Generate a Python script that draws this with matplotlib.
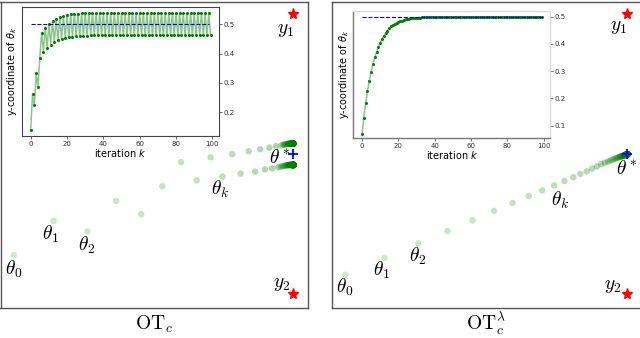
import numpy as np
import matplotlib
matplotlib.use("Agg")
import matplotlib.pyplot as plt

plt.rcParams['mathtext.fontset'] = 'cm'
plt.rcParams['font.family'] = ['DejaVu Sans']

# ---------------- data ----------------
iters = list(range(100))

# OT_c : oscillating iterates
left_y = [0.140, 0.262, 0.224, 0.333, 0.286, 0.386, 0.472, 0.407, 0.489, 0.420,
          0.501, 0.431, 0.511, 0.438, 0.518, 0.446, 0.524, 0.450, 0.529, 0.454,
          0.532, 0.456, 0.534, 0.458, 0.535, 0.459, 0.536, 0.460, 0.537, 0.461,
          0.537, 0.461, 0.538, 0.462, 0.538, 0.462, 0.538, 0.462, 0.538, 0.462,
          0.538, 0.462, 0.538, 0.462, 0.538, 0.462, 0.538, 0.462, 0.538, 0.462,
          0.538, 0.462, 0.538, 0.462, 0.538, 0.462, 0.538, 0.462, 0.538, 0.462,
          0.538, 0.462, 0.538, 0.462, 0.538, 0.462, 0.538, 0.462, 0.538, 0.462,
          0.538, 0.462, 0.538, 0.462, 0.538, 0.462, 0.538, 0.462, 0.538, 0.462,
          0.538, 0.462, 0.538, 0.462, 0.538, 0.462, 0.538, 0.462, 0.538, 0.462,
          0.538, 0.462, 0.538, 0.462, 0.538, 0.462, 0.538, 0.462, 0.538, 0.462]
left_x = [0.000, 0.142, 0.263, 0.366, 0.455, 0.531, 0.598, 0.654, 0.704, 0.746,
          0.781, 0.811, 0.840, 0.863, 0.881, 0.898, 0.914, 0.924, 0.938, 0.946,
          0.958, 0.955, 0.964, 0.962, 0.969, 0.968, 0.974, 0.973, 0.978, 0.977,
          0.981, 0.980, 0.984, 0.983, 0.986, 0.985, 0.988, 0.987, 0.990, 0.989,
          0.991, 0.990, 0.992, 0.991, 0.993, 0.992, 0.994, 0.993, 0.994, 0.994,
          0.995, 0.995, 0.995, 0.995, 0.996, 0.996, 0.996, 0.996, 0.996, 0.997,
          0.997, 0.997, 0.997, 0.997, 0.997, 0.998, 0.997, 0.998, 0.998, 0.998,
          0.998, 0.998, 0.998, 0.998, 0.998, 0.999, 0.998, 0.999, 0.998, 0.999,
          0.999, 0.999, 0.999, 0.999, 0.999, 0.999, 0.999, 0.999, 0.999, 1.000,
          0.999, 1.000, 0.999, 1.000, 0.999, 1.000, 0.999, 1.000, 0.999, 1.000]

# OT_c^lambda : smooth iterates
right_y = [0.070, 0.130, 0.182, 0.226, 0.264, 0.298, 0.326, 0.351, 0.371, 0.389,
           0.405, 0.418, 0.430, 0.439, 0.449, 0.457, 0.465, 0.470, 0.474, 0.478,
           0.481, 0.484, 0.486, 0.488, 0.490, 0.491, 0.4925, 0.4935, 0.4944, 0.4952,
           0.4959, 0.4965, 0.497, 0.4974, 0.4978, 0.4981, 0.4984, 0.4986, 0.4988, 0.499,
           0.4991, 0.4993, 0.4994, 0.4995, 0.4995, 0.4996, 0.4997, 0.4997, 0.4997, 0.4998,
           0.4998, 0.4998, 0.4998, 0.4999, 0.4999, 0.4999, 0.4999, 0.4999, 0.4999, 0.4999,
           0.500, 0.500, 0.500, 0.500, 0.500, 0.500, 0.500, 0.500, 0.500, 0.500,
           0.500, 0.500, 0.500, 0.500, 0.500, 0.500, 0.500, 0.500, 0.500, 0.500,
           0.500, 0.500, 0.500, 0.500, 0.500, 0.500, 0.500, 0.500, 0.500, 0.500,
           0.500, 0.500, 0.500, 0.500, 0.500, 0.500, 0.500, 0.500, 0.500, 0.500]
right_x = [0.000, 0.138, 0.258, 0.362, 0.451, 0.527, 0.593, 0.650, 0.698, 0.740,
           0.777, 0.808, 0.833, 0.856, 0.875, 0.892, 0.907, 0.920, 0.931, 0.940,
           0.948, 0.955, 0.961, 0.966, 0.971, 0.975, 0.978, 0.981, 0.984, 0.986,
           0.988, 0.990, 0.991, 0.992, 0.993, 0.994, 0.995, 0.9955, 0.996, 0.9965,
           0.997, 0.9974, 0.9977, 0.998, 0.9982, 0.9984, 0.9986, 0.9988, 0.9989, 0.999,
           0.9991, 0.9992, 0.9993, 0.9994, 0.9995, 0.9995, 0.9996, 0.9996, 0.9997, 0.9997,
           0.9997, 0.9998, 0.9998, 0.9998, 0.9998, 0.9999, 0.9999, 0.9999, 0.9999, 0.9999,
           1.000, 1.000, 1.000, 1.000, 1.000, 1.000, 1.000, 1.000, 1.000, 1.000,
           1.000, 1.000, 1.000, 1.000, 1.000, 1.000, 1.000, 1.000, 1.000, 1.000,
           1.000, 1.000, 1.000, 1.000, 1.000, 1.000, 1.000, 1.000, 1.000, 1.000]

target_y1 = (1.0, 1.0)
target_y2 = (1.0, 0.0)
theta_star = (1.0, 0.5)

left_yticks = [0.2, 0.3, 0.4, 0.5]
right_yticks = [0.1, 0.2, 0.3, 0.4, 0.5]
xticks = [0, 20, 40, 60, 80, 100]

# ---------------- figure ----------------
W, H = 640, 338
fig = plt.figure(figsize=(W / 100, H / 100), dpi=100)

def fa(x0, y0, x1, y1):
    """pixel box -> figure fraction rect"""
    return [x0 / W, 1 - y1 / H, (x1 - x0) / W, (y1 - y0) / H]

panels = [
    dict(main=fa(0.5, 2, 308, 308), inset=fa(22, 7.3, 218.7, 135.7),
         x=left_x, y=left_y, yticks=left_yticks, ilim=(0.120, 0.558), dash_end=98,
         labels=[(r'$\theta_0$', -0.002, 0.09), (r'$\theta_1$', 0.13, 0.215),
                 (r'$\theta_2$', 0.259, 0.176), (r'$\theta_k$', 0.738, 0.376),
                 (r'$\theta^*$', 0.952, 0.487), (r'$y_1$', 0.973, 0.944),
                 (r'$y_2$', 0.959, 0.037)],
         caption=(154, r'$\mathrm{OT}_c$'), dark_inset=True),
    dict(main=fa(332, 2, 642, 308), inset=fa(353.3, 10.7, 550, 137.7),
         x=right_x, y=right_y, yticks=right_yticks, ilim=(0.056, 0.522), dash_end=100,
         labels=[(r'$\theta_0$', -0.004, 0.026), (r'$\theta_1$', 0.129, 0.087),
                 (r'$\theta_2$', 0.257, 0.137), (r'$\theta_k$', 0.761, 0.337),
                 (r'$\theta^*$', 1.0, 0.451), (r'$y_1$', 0.971, 0.955),
                 (r'$y_2$', 0.95, 0.033)],
         caption=(486, r'$\mathrm{OT}_c^{\lambda}$'), dark_inset=False),
]

n = len(iters)
for p in panels:
    ax = fig.add_axes(p['main'])
    ax.set_xlim(-0.048, 1.052)
    ax.set_ylim(-0.049, 1.044)
    ax.set_xticks([])
    ax.set_yticks([])
    for s in ax.spines.values():
        s.set_color('#555555')
        s.set_linewidth(1.0)
    alphas = 0.18 + 0.82 * np.array(iters) / (n - 1)
    cols = np.zeros((n, 4))
    cols[:, 1] = 0.5
    cols[:, 3] = alphas
    ax.scatter(p['x'], p['y'], s=22, c=cols, edgecolors='none', zorder=2)
    ax.plot(*target_y1, marker='*', color='red', markersize=8, linestyle='none', zorder=3)
    ax.plot(*target_y2, marker='*', color='red', markersize=8, linestyle='none', zorder=3)
    ax.plot(*theta_star, marker='+', color='blue', markersize=6.5, mew=1.3,
            linestyle='none', zorder=4)
    for txt, tx, ty in p['labels']:
        ax.text(tx, ty, txt, fontsize=14, ha='center', va='center', zorder=5,
                clip_on=False)
    cx, cap = p['caption']
    fig.text(cx / W, 1 - 324 / H, cap, fontsize=14, ha='center', va='center')

    # inset
    ia = fig.add_axes(p['inset'])
    ia.plot(iters, p['y'], color='green', alpha=0.45, lw=1.1, zorder=2)
    ia.plot(iters, p['y'], linestyle='none', marker='.', color='green',
            markersize=2.4, zorder=3)
    ia.hlines(0.5, 0, p['dash_end'], colors='blue', linestyles='--', lw=0.8, zorder=4)
    ia.set_xlim(-4.8, 103.5)
    ia.set_ylim(*p['ilim'])
    ia.set_xticks(xticks)
    ia.set_yticks(p['yticks'])
    ia.yaxis.tick_right()
    ia.yaxis.set_label_position('left')
    ia.tick_params(labelsize=5, length=2, width=0.5, pad=1.5, colors='#333333')
    ia.set_xlabel(r'iteration $k$', fontsize=7, labelpad=0.5, math_fontfamily='dejavusans')
    ia.set_ylabel(r'y-coordinate of $\theta_k$', fontsize=7, labelpad=2,
                  math_fontfamily='dejavusans')
    if p['dark_inset']:
        for s in ia.spines.values():
            s.set_color('#444444')
            s.set_linewidth(0.8)
    else:
        ia.spines['left'].set_color('#777777')
        ia.spines['bottom'].set_color('#777777')
        ia.spines['top'].set_color('#dddddd')
        ia.spines['right'].set_color('#dddddd')
        for s in ia.spines.values():
            s.set_linewidth(1.0)

fig.savefig('out.png', dpi=100)
